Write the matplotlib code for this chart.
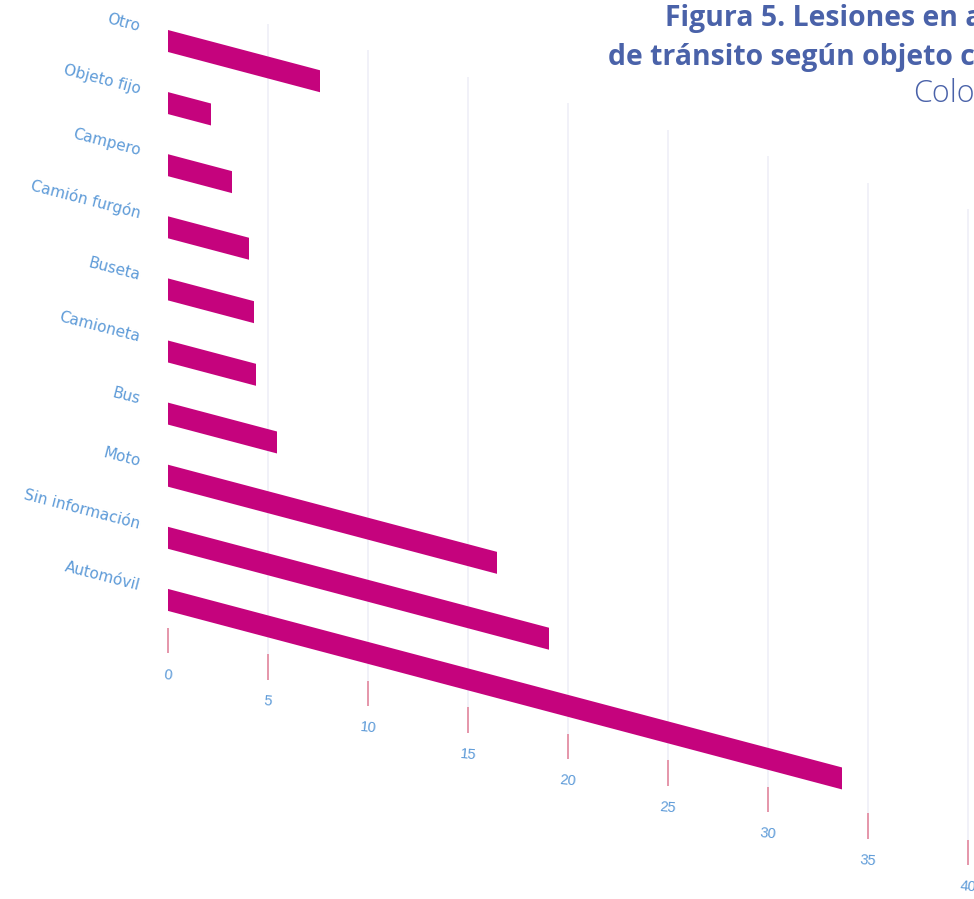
import numpy as np
import matplotlib
matplotlib.use("Agg")
import matplotlib.pyplot as plt
import matplotlib.transforms as mtransforms

# injuries by object of collision, top to bottom
CATEGORIES = [
    "Otro", "Objeto fijo", "Campero", "Camión furgón", "Buseta",
    "Camioneta", "Bus", "Moto", "Sin información", "Automóvil",
]
VALUES = [7.6, 2.15, 3.2, 4.05, 4.3, 4.4, 5.45, 16.45, 19.05, 33.7]
TICKS = [0, 5, 10, 15, 20, 25, 30, 35, 40]

TITLE_1 = "Figura 5. Lesiones en a"
TITLE_2 = "de tránsito según objeto c"
TITLE_3 = "Colo"

BAR_COLOR = "#c5037d"
LABEL_COLOR = "#5e9bd8"
TICK_COLOR = "#e596aa"
GRID_COLOR = "#f0f0f8"
TITLE_COLOR = "#4a62a9"

fig = plt.figure(figsize=(9.74, 8.99), dpi=100)
ax = fig.add_axes([0, 0, 1, 1])
ax.axis("off")

# oblique projection: every unit of value pushes things down a bit
SHEAR = 0.0853
trans = mtransforms.Affine2D.from_values(1, SHEAR, 0, 1, 0, 0) + ax.transData

rows = np.arange(len(CATEGORIES))

# light vertical guides, one per tick
for v in TICKS[1:]:
    ax.plot([v, v], [-0.7, 9.45], transform=trans, color=GRID_COLOR,
            lw=1.3, zorder=0, solid_capstyle="butt")

ax.barh(rows, VALUES, height=0.354, left=0, color=BAR_COLOR,
        transform=trans, zorder=2)

for r, name in zip(rows, CATEGORIES):
    ax.text(-1.4, r - 0.1, name, transform=trans, ha="right", va="center",
            rotation=-14.5, rotation_mode="anchor", color=LABEL_COLOR,
            fontsize=11, family="DejaVu Sans")

for v in TICKS:
    ax.plot([v, v], [9.45, 9.86], transform=trans, color=TICK_COLOR,
            lw=1.4, solid_capstyle="butt", zorder=3)
    ax.text(v, 10.21, str(v), transform=trans, ha="center", va="center",
            rotation=-5, color=LABEL_COLOR, fontsize=10.5,
            family="Liberation Sans")

ax.set_xlim(-8.4, 40.3)
ax.set_ylim(13.816, -0.66)

fig.text(665 / 974, 1 - 26 / 899, TITLE_1, ha="left", va="baseline",
         fontsize=20.4, fontweight="bold", family="Open Sans", color=TITLE_COLOR)
fig.text(608 / 974, 1 - 65 / 899, TITLE_2, ha="left", va="baseline",
         fontsize=20.4, fontweight="bold", family="Open Sans", color=TITLE_COLOR)
fig.text(913 / 974, 1 - 102 / 899, TITLE_3, ha="left", va="baseline",
         fontsize=22, fontweight="light", family="Open Sans", color=TITLE_COLOR)

fig.savefig("out.png", dpi=100)
